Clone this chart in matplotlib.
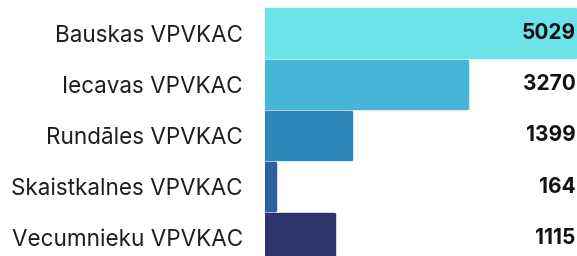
import numpy as np
import matplotlib.pyplot as plt

# data
centres = ["Bauskas VPVKAC", "Iecavas VPVKAC", "Rundāles VPVKAC",
           "Skaistkalnes VPVKAC", "Vecumnieku VPVKAC"]
counts = [5029, 3270, 1399, 164, 1115]
colors = ["#6be3e8", "#45b6d5", "#2b88b9", "#2e5f9e", "#30346d"]

plt.rcParams['font.family'] = ['Inter', 'DejaVu Sans']

W, H = 577, 256
fig = plt.figure(figsize=(W / 100, H / 100), dpi=100)
x0 = 265
ax = fig.add_axes([x0 / W, 0, (W - x0) / W, 1])

pitch = 51.2  # pixels per category
top = -33 / pitch
ax.set_ylim(top + H / pitch, top)
ax.set_xlim(0, 5029 * (W - x0) / 310)

ypos = np.arange(len(centres))
ax.barh(ypos, counts, height=0.92, color=colors, edgecolor=colors,
        linewidth=2.5, joinstyle='round')

ax.set_yticks(ypos)
ax.set_yticklabels(centres, fontsize=16.2, color='#1e1e1e')
ax.tick_params(axis='y', length=0, pad=16)
ax.set_xticks([])
for s in ax.spines.values():
    s.set_visible(False)

for y, v in zip(ypos, counts):
    ax.text(0.996, y, str(v), transform=ax.get_yaxis_transform(),
            ha='right', va='center', fontsize=15, fontweight='bold', color='#111111')

fig.savefig("out.png", dpi=100)
